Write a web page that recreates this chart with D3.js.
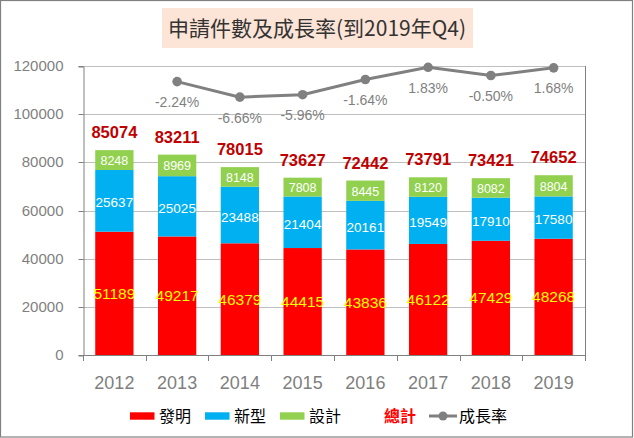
<!DOCTYPE html>
<html><head><meta charset="utf-8">
<script src="https://cdn.jsdelivr.net/npm/d3@7"></script>
<style>html,body{margin:0;padding:0;background:#fff;}svg{display:block;}</style>
</head><body>
<svg id="c" width="634" height="438"></svg>
<script>
const years = ['2012','2013','2014','2015','2016','2017','2018','2019'];
const invention = [51189,49217,46379,44415,43836,46122,47429,48268];
const utility = [25637,25025,23488,21404,20161,19549,17910,17580];
const design = [8248,8969,8148,7808,8445,8120,8082,8804];
const total = [85074,83211,78015,73627,72442,73791,73421,74652];
const growth = [null,-2.24,-6.66,-5.96,-1.64,1.83,-0.50,1.68];
const yTicks = [0,20000,40000,60000,80000,100000,120000];
const titleText = '申請件數及成長率(到2019年Q4)';
const legendNames = ['發明','新型','設計','總計','成長率'];

const svg = d3.select('#c');
const L = 83, R = 585, T = 66, B = 355;
const x = d3.scaleBand().domain(years).range([L, R]).paddingInner(0.39).paddingOuter(0.195);
const y = d3.scaleLinear().domain([0,120000]).range([B, T]);
const y2 = d3.scaleLinear().domain([-80, 2.2]).range([B, T]);
const num = 'Liberation Sans, Arial, sans-serif';
const cjk = '"Noto Sans CJK TC", "Noto Sans CJK SC", sans-serif';

// outer border
svg.append('rect').attr('x',0.5).attr('y',0.5).attr('width',632).attr('height',436.5)
  .attr('fill','#fff').attr('stroke','#808080').attr('stroke-width',1.2);

// title
svg.append('rect').attr('x',162).attr('y',8).attr('width',311).attr('height',40).attr('fill','#FCE4D6');
svg.append('text').attr('x',317).attr('y',35.5).attr('text-anchor','middle')
  .attr('font-family',cjk).attr('font-size',21).attr('fill','#333333').text(titleText);

// gridlines
svg.append('g').selectAll('line').data(yTicks.filter(d=>d>0)).join('line')
  .attr('x1',L).attr('x2',R).attr('y1',d=>Math.round(y(d))+0.5).attr('y2',d=>Math.round(y(d))+0.5)
  .attr('stroke','#bfbfbf').attr('stroke-width',1);

// y axis
const ya = svg.append('g').attr('transform',`translate(${L+0.5},0.5)`)
  .call(d3.axisLeft(y).tickValues(yTicks).tickSize(5).tickPadding(15).tickFormat(d3.format('d')));
ya.select('.domain').attr('stroke','#808080');
ya.selectAll('.tick line').attr('stroke','#808080');
ya.selectAll('text').attr('font-family',num).attr('font-size',15).attr('fill','#7f7f7f');
ya.selectAll('.tick').attr('transform', d => `translate(0,${Math.round(y(d))})`);

// right border (secondary axis line)
svg.append('line').attr('x1',R+0.5).attr('x2',R+0.5).attr('y1',T).attr('y2',B+6)
  .attr('stroke','#808080');

// bars
const stacks = [
  {vals: invention, base: years.map(()=>0), color:'#FF0000'},
  {vals: utility, base: invention, color:'#00B0F0'},
  {vals: design, base: invention.map((v,i)=>v+utility[i]), color:'#92D050'}
];
stacks.forEach(s => {
  svg.append('g').selectAll('rect').data(years).join('rect')
    .attr('x', d=>x(d)).attr('width', x.bandwidth())
    .attr('y', (d,i)=>y(s.base[i]+s.vals[i]))
    .attr('height', (d,i)=>y(s.base[i]) - y(s.base[i]+s.vals[i]))
    .attr('fill', s.color);
});

// x axis
svg.append('line').attr('x1',L).attr('x2',R+1).attr('y1',B+0.5).attr('y2',B+0.5).attr('stroke','#808080');
const bounds = years.map(d => x(d) - x.step()*x.paddingInner()/2);
bounds[0] = L; bounds.push(R);
svg.append('g').selectAll('line').data(bounds).join('line')
  .attr('x1',d=>Math.round(d)+0.5).attr('x2',d=>Math.round(d)+0.5).attr('y1',B).attr('y2',B+6)
  .attr('stroke','#808080');
svg.append('g').selectAll('text').data(years).join('text')
  .attr('x',d=>x(d)+x.bandwidth()/2).attr('y',388.5).attr('text-anchor','middle')
  .attr('font-family',num).attr('font-size',18).attr('fill','#7f7f7f').text(d=>d);

// segment labels
const cx = d => x(d)+x.bandwidth()/2;
svg.append('g').selectAll('text').data(years).join('text')
  .attr('x',cx).attr('y',(d,i)=>(y(0)+y(invention[i]))/2+5.5).attr('text-anchor','middle')
  .attr('font-family',num).attr('font-size',15.5).attr('fill','#FFFF00').text((d,i)=>invention[i]);
svg.append('g').selectAll('text').data(years).join('text')
  .attr('x',cx).attr('y',(d,i)=>(y(invention[i])+y(invention[i]+utility[i]))/2+6.5).attr('text-anchor','middle')
  .attr('font-family',num).attr('font-size',13.5).attr('fill','#FFFFFF').text((d,i)=>utility[i]);
svg.append('g').selectAll('text').data(years).join('text')
  .attr('x',cx).attr('y',(d,i)=>(y(total[i]-design[i])+y(total[i]))/2+4.8).attr('text-anchor','middle')
  .attr('font-family',num).attr('font-size',12.5).attr('fill','#FFFFFF').text((d,i)=>design[i]);

// total labels
svg.append('g').selectAll('text').data(years).join('text')
  .attr('x',cx).attr('y',(d,i)=>y(total[i])-12).attr('text-anchor','middle')
  .attr('font-family',num).attr('font-weight','bold').attr('font-size',16.5).attr('fill','#C00000')
  .text((d,i)=>total[i]);

// growth line
const gpts = years.map((d,i)=>({d, v: growth[i]})).filter(p=>p.v!==null);
svg.append('path').datum(gpts)
  .attr('d', d3.line().x(p=>cx(p.d)).y(p=>y2(p.v)))
  .attr('fill','none').attr('stroke','#808080').attr('stroke-width',3);
svg.append('g').selectAll('circle').data(gpts).join('circle')
  .attr('cx',p=>cx(p.d)).attr('cy',p=>y2(p.v)).attr('r',4.8).attr('fill','#808080');
svg.append('g').selectAll('text').data(gpts).join('text')
  .attr('x',p=>cx(p.d)).attr('y',p=>y2(p.v)+25.5).attr('text-anchor','middle')
  .attr('font-family',num).attr('font-size',14).attr('fill','#7f7f7f')
  .text(p=>p.v.toFixed(2)+'%');

// legend
const lg = svg.append('g');
const ly = 416;
const sw = [{x:130,c:'#FF0000'},{x:205,c:'#00B0F0'},{x:280,c:'#92D050'}];
sw.forEach((s,i)=>{
  lg.append('rect').attr('x',s.x).attr('y',ly-3.7).attr('width',24.5).attr('height',7.4).attr('fill',s.c);
  lg.append('text').attr('x',s.x+29).attr('y',ly+5.8).attr('font-family',cjk).attr('font-size',16)
    .attr('fill','#000').text(legendNames[i]);
});
lg.append('text').attr('x',384).attr('y',ly+5.8).attr('font-family',cjk).attr('font-size',16)
  .attr('font-weight','bold').attr('fill','#FF0000').text(legendNames[3]);
lg.append('line').attr('x1',429).attr('x2',457).attr('y1',ly).attr('y2',ly).attr('stroke','#808080').attr('stroke-width',3);
lg.append('circle').attr('cx',443).attr('cy',ly).attr('r',4.5).attr('fill','#808080');
lg.append('text').attr('x',459).attr('y',ly+5.8).attr('font-family',cjk).attr('font-size',16)
  .attr('fill','#000').text(legendNames[4]);
</script>
</body></html>
